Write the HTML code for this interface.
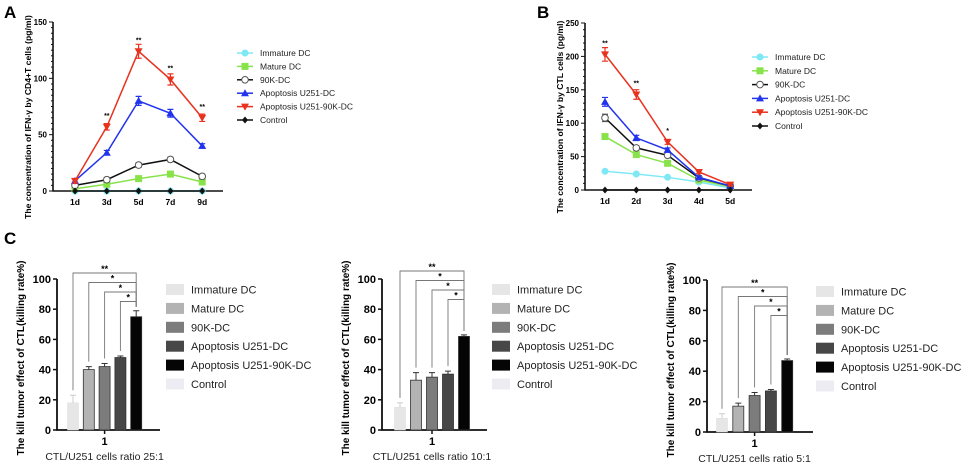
<!DOCTYPE html>
<html><head><meta charset="utf-8"><style>
html,body{margin:0;padding:0;background:#fff;}
svg{display:block;font-family:"Liberation Sans",Arial,sans-serif;}
</style></head><body>
<svg id="fig" width="969" height="468" viewBox="0 0 969 468" xmlns="http://www.w3.org/2000/svg">
<text x="4" y="18" font-size="17" font-weight="bold">A</text>
<text x="537" y="18" font-size="17" font-weight="bold">B</text>
<text x="4" y="244" font-size="17" font-weight="bold">C</text>
</svg>
<script>
const seriesNames=["Immature DC","Mature DC","90K-DC","Apoptosis U251-DC","Apoptosis U251-90K-DC","Control"];
const aCategories=["1d","3d","5d","7d","9d"];
const aImmature=[0,0,0,0,0];
const aMature=[2,6,11,15,8];
const a90K=[5,10,23,28,13];
const aApopDC=[9,34,80,69,40];
const aApop90K=[9,57,124,99,65];
const aControl=[0,0,0,0,0];
const aStars=["","**","**","**","**"];
const aTicks=[0,50,100,150];
const bCategories=["1d","2d","3d","4d","5d"];
const bImmature=[28,24,19,12,3];
const bMature=[80,53,40,15,5];
const b90K=[108,63,52,18,6];
const bApopDC=[132,78,60,19,6];
const bApop90K=[203,143,72,27,8];
const bControl=[0,0,0,0,0];
const bStars=["**","**","*","",""];
const bTicks=[0,50,100,150,200,250];
const c1Values=[18,40,42,48,75];
const c1Errors=[5,2,2,1,4];
const c2Values=[15,33,35,37,62];
const c2Errors=[3,5,3,2,1];
const c3Values=[9,17,24,27,47];
const c3Errors=[3,2,2,1,1];
const cTicks=[0,20,40,60,80,100];
const cStars=["**","*","*","*"];

const NS="http://www.w3.org/2000/svg";
const svg=document.getElementById('fig');
function mk(tag,attrs,parent,text){const e=document.createElementNS(NS,tag);for(const k in attrs)e.setAttribute(k,attrs[k]);if(text!==undefined)e.textContent=text;(parent||svg).appendChild(e);return e;}

const lineColors=["#7fe8f5","#88e24a","#222","#2233ee","#e8321e","#111"];
function marker(g,type,x,y,col){
  let e;
  if(type===0)e=mk('circle',{cx:x,cy:y,r:3.5,fill:col},g);
  else if(type===1)e=mk('rect',{x:x-3.5,y:y-3.5,width:7,height:7,fill:col},g);
  else if(type===2)e=mk('circle',{cx:x,cy:y,r:3.3,fill:'#fff',stroke:'#555','stroke-width':1},g);
  else if(type===3)e=mk('polygon',{points:`${x},${y-4} ${x-4},${y+3} ${x+4},${y+3}`,fill:col},g);
  else if(type===4)e=mk('polygon',{points:`${x},${y+4} ${x-4},${y-3} ${x+4},${y-3}`,fill:col},g);
  else e=mk('polygon',{points:`${x},${y-3.5} ${x+3},${y} ${x},${y+3.5} ${x-3},${y}`,fill:col},g);
  
  
  return e;
}

function lineChart(id,o){
  const g=mk('g',{});
  
  
  const ymax=o.ticks[o.ticks.length-1];
  const Y=v=>o.y0-(v/ymax)*(o.y0-o.y1);
  const X=i=>o.x0+i*o.dx;
  const ax=mk('path',{d:`M${o.ax},${o.y1}V${o.y0}H${o.axEnd}`,stroke:'#111','stroke-width':1.6,fill:'none'},g);
  
  
  const minor=o.minor;
  for(let v=0;v<=ymax;v+=minor){mk('line',{x1:o.ax-(v%o.ticks[1]===0?4:2),x2:o.ax,y1:Y(v),y2:Y(v),stroke:'#111','stroke-width':1},g);}
  o.ticks.forEach(t=>{const tx=mk('text',{x:o.ax-6,y:Y(t)+3,'font-size':8,'font-weight':'bold','text-anchor':'end'},g,t);
    });
  o.cats.forEach((c,i)=>{mk('line',{x1:X(i),x2:X(i),y1:o.y0,y2:o.y0+3,stroke:'#111'},g);
    const tx=mk('text',{x:X(i),y:o.y0+14,'font-size':8.5,'font-weight':'bold','text-anchor':'middle'},g,c);
    });
  const yt=mk('text',{x:0,y:0,'font-size':8.6,'font-weight':'bold','text-anchor':'middle',transform:`translate(${o.titleX},${o.titleY}) rotate(-90)`},g,o.title);
  
  o.series.forEach((s,si)=>{
    const col=lineColors[si];
    const p=mk('polyline',{points:s.map((v,i)=>X(i)+','+Y(v)).join(' '),fill:'none',stroke:si===2?'#111':col,'stroke-width':1.5},g);
    
    s.forEach((v,i)=>{
      if(si>=2&&si<=4&&v>5){const e=Math.max(2,v*0.05);
        mk('path',{d:`M${X(i)-3},${Y(v+e)}H${X(i)+3}M${X(i)},${Y(v+e)}V${Y(v-e)}M${X(i)-3},${Y(v-e)}H${X(i)+3}`,stroke:si===2?'#555':col,'stroke-width':1.2},g);}
      marker(g,si,X(i),Y(v),col);
    });
  });
  o.stars.forEach((st,i)=>{if(st){const tx=mk('text',{x:X(i),y:Y(o.series[4][i])-9,'font-size':7,'font-weight':'bold','text-anchor':'middle'},g,st);
    }});
  seriesNames.forEach((n,i)=>{const ly=o.ly+i*o.lgap;
    const lg=mk('g',{},g);
    mk('line',{x1:o.lx-8,x2:o.lx+8,y1:ly,y2:ly,stroke:i===2?'#111':lineColors[i],'stroke-width':1.5},lg);
    marker(lg,i,o.lx,ly,lineColors[i]);
    mk('text',{x:o.lx+15,y:ly+3,'font-size':8.5,fill:'#222'},lg,n);});
}
lineChart('panel-a',{ax:53,axEnd:223,y0:191,y1:22,x0:75,dx:31.8,ticks:aTicks,minor:5,cats:aCategories,
  series:[aImmature,aMature,a90K,aApopDC,aApop90K,aControl],stars:aStars,title:"The concentration of IFN-γ  by CD4+T cells  (pg/ml)",titleX:31,titleY:117,lx:245,ly:53,lgap:13.4});
lineChart('panel-b',{ax:585,axEnd:752,y0:190,y1:23,x0:605,dx:31.3,ticks:bTicks,minor:10,cats:bCategories,
  series:[bImmature,bMature,b90K,bApopDC,bApop90K,bControl],stars:bStars,title:"The concentration of IFN-γ  by CTL cells  (pg/ml)",titleX:563,titleY:117,lx:760,ly:57,lgap:13.8});

const barFills=["#e6e6e6","#b3b3b3","#7c7c7c","#474747","#050505","#ececf2"];
function barChart(id,o){
  const g=mk('g',{});
  
  
  const Y=v=>o.y0-(v/100)*(o.y0-o.y1);
  const X=i=>o.x0+i*o.dx;
  const ax=mk('path',{d:`M${o.ax},${o.y1}V${o.y0}H${o.axEnd}`,stroke:'#111','stroke-width':1.8,fill:'none'},g);
  
  cTicks.forEach(t=>{mk('line',{x1:o.ax-4,x2:o.ax,y1:Y(t),y2:Y(t),stroke:'#111','stroke-width':1.5},g);
    const tx=mk('text',{x:o.ax-6,y:Y(t)+4,'font-size':11,'font-weight':'bold','text-anchor':'end'},g,t);
    });
  const xm=(X(0)+X(4))/2;
  mk('line',{x1:xm,x2:xm,y1:o.y0,y2:o.y0+4,stroke:'#111','stroke-width':1.5},g);
  const t1=mk('text',{x:xm,y:o.y0+15,'font-size':11,'font-weight':'bold','text-anchor':'middle'},g,'1');
  
  const xl=mk('text',{x:xm,y:o.y0+30,'font-size':10.5,'text-anchor':'middle',fill:'#222'},g,o.xlabel);
  
  const yt=mk('text',{x:0,y:0,'font-size':10,'font-weight':'bold','text-anchor':'middle',transform:`translate(${o.ax-33},${o.y0-72}) rotate(-90)`},g,'The kill tumor effect of CTL(killing rate%)');
  
  o.vals.forEach((v,i)=>{
    const b=mk('rect',{x:X(i)-5.5,y:Y(v),width:11,height:o.y0-Y(v),fill:barFills[i],stroke:i===0?'#ddd':'#333','stroke-width':i===0?0.5:0.8},g);
    
    const e=o.errs[i];
    mk('path',{d:`M${X(i)},${Y(v)}V${Y(v+e)}M${X(i)-3},${Y(v+e)}H${X(i)+3}`,stroke:i===0?'#ccc':'#333','stroke-width':1},g);
  });
  const xe=X(4);
  for(let k=0;k<4;k++){
    const by=o.by+k*9.5;
    const bot=Y(o.vals[k]+o.errs[k])-5;
    const bbot=Y(o.vals[4]+o.errs[4])-4;
    mk('path',{d:`M${X(k)},${bot}V${by}H${xe}V${bbot}`,stroke:'#777','stroke-width':0.9,fill:'none'},g);
    const s=mk('text',{x:(X(k)+xe)/2,y:by-1,'font-size':9,'font-weight':'bold','text-anchor':'middle'},g,cStars[k]);
    
  }
  seriesNames.forEach((n,i)=>{const ly=o.ly+i*18.9;
    const lg=mk('g',{},g);
    mk('rect',{x:o.lx,y:ly-5,width:18,height:11,fill:barFills[i]},lg);
    mk('text',{x:o.lx+25,y:ly+4.5,'font-size':11,fill:'#222'},lg,n);});
}
barChart('panel-c1',{ax:57,axEnd:160,y0:430,y1:279,x0:73,dx:15.8,vals:c1Values,errs:c1Errors,xlabel:'CTL/U251 cells ratio 25:1',by:273,lx:166,ly:289});
barChart('panel-c2',{ax:382,axEnd:487,y0:430,y1:279,x0:400,dx:16,vals:c2Values,errs:c2Errors,xlabel:'CTL/U251 cells ratio 10:1',by:271,lx:492,ly:289});
barChart('panel-c3',{ax:707,axEnd:813,y0:432,y1:280,x0:722,dx:16.3,vals:c3Values,errs:c3Errors,xlabel:'CTL/U251 cells ratio 5:1',by:287,lx:816,ly:291});
</script>
</body></html>
